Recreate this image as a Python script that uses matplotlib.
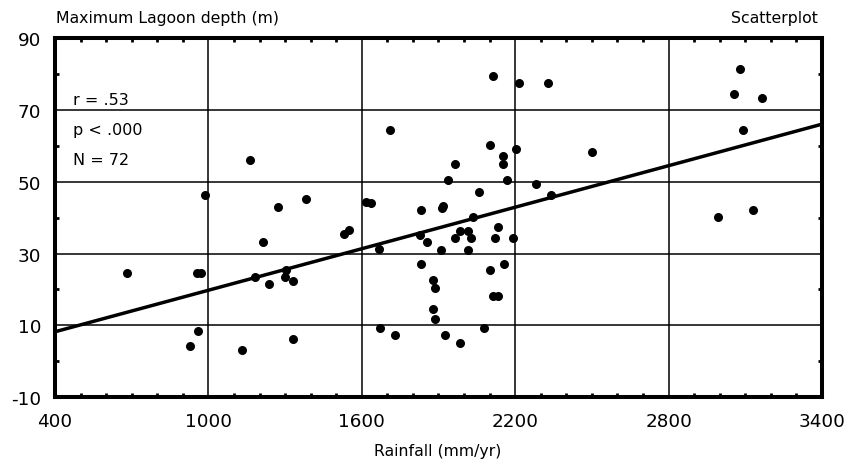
import numpy as np
import matplotlib.pyplot as plt
from matplotlib.ticker import MultipleLocator

plt.rcParams['axes.unicode_minus'] = False

# rainfall (mm/yr) vs maximum lagoon depth (m)
rainfall = [681, 955, 970, 958, 928, 988, 1133, 1161, 1181, 1212,
            1236, 1271, 1305, 1301, 1330, 1330, 1382, 1529, 1549, 1618,
            1636, 1666, 1672, 1709, 1731, 1828, 1831, 1831, 1855, 1877,
            1885, 1877, 1885, 1911, 1912, 1918, 1927, 1939, 1963, 1963,
            1985, 1985, 2014, 2014, 2028, 2035, 2058, 2079, 2102, 2102,
            2115, 2115, 2123, 2131, 2131, 2152, 2152, 2158, 2168, 2190,
            2204, 2216, 2282, 2327, 2340, 2502, 2992, 3057, 3078, 3093,
            3131, 3165]
depth = [24.5, 24.5, 24.5, 8.3, 4.1, 46.3, 3.1, 56.2, 23.5, 33.3,
         21.4, 43.1, 25.5, 23.4, 22.3, 6.3, 45.3, 35.5, 36.5, 44.4,
         44.2, 31.2, 9.3, 64.5, 7.2, 35.3, 42.1, 27.0, 33.3, 22.6,
         20.3, 14.5, 11.9, 31.1, 42.6, 43.3, 7.2, 50.5, 55.0, 34.4,
         36.3, 5.2, 36.3, 31.1, 34.4, 40.1, 47.3, 9.3, 60.2, 25.5,
         79.6, 18.2, 34.4, 37.5, 18.2, 57.3, 55.0, 27.0, 50.5, 34.4,
         59.3, 77.5, 49.4, 77.5, 46.4, 58.3, 40.1, 74.5, 81.6, 64.5,
         42.1, 73.3]

x_ticks = [400, 1000, 1600, 2200, 2800, 3400]
y_ticks = [-10, 10, 30, 50, 70, 90]

# fitted line as drawn in the figure
fit_intercept = 0.48
fit_slope = 0.0193

stats_text = ["r = .53", "p < .000", "N = 72"]

fig = plt.figure(figsize=(8.58, 4.64), dpi=100)
ax = fig.add_axes([0.0641, 0.1422, 0.8939, 0.7727])

ax.set_xlim(400, 3400)
ax.set_ylim(-10, 90)
ax.set_xticks(x_ticks)
ax.set_yticks(y_ticks)
ax.xaxis.set_minor_locator(MultipleLocator(100))
ax.yaxis.set_minor_locator(MultipleLocator(10))

ax.grid(True, which="major", color="black", linewidth=1.1)
ax.set_axisbelow(True)

ax.tick_params(which="major", length=0, labelsize=13.2)
ax.tick_params(axis="x", which="major", pad=11)
ax.tick_params(axis="y", which="major", pad=10)
ax.tick_params(which="minor", direction="in", length=3, width=2,
               top=True, right=True)

for s in ax.spines.values():
    s.set_linewidth(2.9)

xs = np.array(x_ticks[::len(x_ticks) - 1])
ax.plot(xs, fit_intercept + fit_slope * xs, color="black", linewidth=2.5,
        solid_capstyle="butt", zorder=3)
ax.scatter(rainfall, depth, s=30, color="black", zorder=4, clip_on=False)

for i, t in enumerate(stats_text):
    ax.text(0.023, 0.83 - i * 0.084, t, transform=ax.transAxes,
            fontsize=11.5, va="center", ha="left")

fig.text(56 / 858, 1 - 18 / 464, "Maximum Lagoon depth (m)", fontsize=11.3,
         va="center", ha="left")
fig.text(818 / 858, 1 - 18 / 464, "Scatterplot", fontsize=11.3,
         va="center", ha="right")
fig.text(438 / 858, 1 - 452 / 464, "Rainfall (mm/yr)", fontsize=11.3,
         va="center", ha="center")

fig.savefig("out.png", dpi=100)
